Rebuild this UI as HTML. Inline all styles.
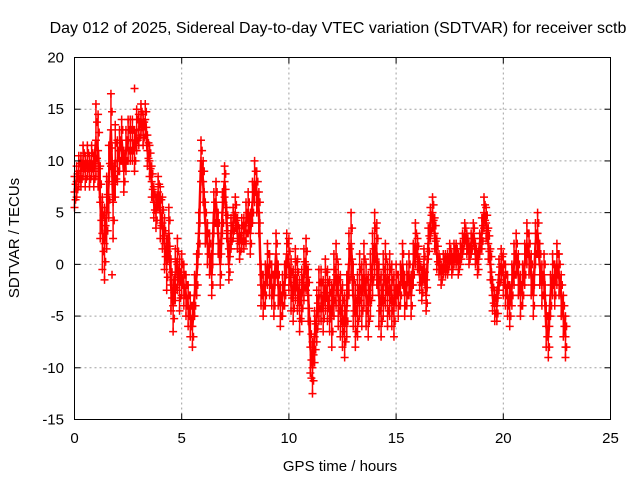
<!DOCTYPE html>
<html><head><meta charset="utf-8"><style>
body{margin:0;background:#fff}
svg text{font-family:"Liberation Sans",sans-serif;font-size:15px;fill:#000}
</style></head><body>
<svg id="chart" width="640" height="480">
<rect width="640" height="480" fill="#fff"/>
<g id="grid"></g>
<g id="pts"></g>
<rect x="74.5" y="57.5" width="536" height="362" fill="none" stroke="#000"/>
<g id="ticks"></g>
<text x="338" y="33" text-anchor="middle" style="font-size:16px">Day 012 of 2025, Sidereal Day-to-day VTEC variation (SDTVAR) for receiver sctb</text>
<text x="340" y="471" text-anchor="middle">GPS time / hours</text>
<text transform="translate(19,238) rotate(-90)" text-anchor="middle">SDTVAR / TECUs</text>
</svg>
<script>
const xTicks=[0,5,10,15,20,25];
const yTicks=[-15,-10,-5,0,5,10,15,20];
const step=0.1;
const values=[
7,8,9,9,10,9,10,9,10,9,
12,11,6,3,2,5,8,13,6,10,
10,11,12,9,11,12,12,12,11,13,
13,14,13,14,11,10,8,6,5,7,
5,4,2,0,3,-2,-4,-1,0,-2,
-1,-2,-3,-4,-5,-6,-3,-1,3,10,
8,4,2,1,-1,5,6,3,0,5,
8,4,0,3,4,5,3,2,3,3,
4,5,3,6,8,7,5,-2,-3,-2,
0,-1,-2,-3,1,-2,-4,-3,-2,1,
0,-2,-3,-1,-2,-4,-3,-1,0,-3,
-8,-10,-7,-5,-3,-3,-4,-2,-3,-4,
-5,-2,-1,-3,-4,-5,-6,-4,0,2,
-3,-5,-4,-2,-3,-1,-3,-4,-2,0,
2,1,-3,-4,-2,-1,-3,-2,-3,-4,
-2,-3,-2,0,-3,-2,-1,-3,0,2,
1,-1,-2,0,-3,2,4,5,3,1,
0,-1,0,0,0,1,0,1,1,0,
1,2,3,2,1,2,3,1,0,2,
3,5,4,2,0,-3,-4,-4,-1,0,
-1,-2,-3,-4,-2,0,1,-1,-3,-2,
0,2,1,-1,-3,2,3,0,-2,-1,
-6,-7,-3,-1,-2,0,-1,-3,-5,-7
];
const hourSpread=[1.5,3.5,2,1.5,2.5,2,2,1.5,2,2,2.5,2.5,3,3,3,2,1.5,1,1,1.5,2,2,2];
const outliers=[[2.8,17],[1.75,-1],[11.05,-11],[22.9,-8]];
const X0=74.5,X1=610.5,Y0=419.5,Y1=57.5;
const xs=v=>X0+(v-0)/(25-0)*(X1-X0);
const ys=v=>Y0-(v+15)/(35)*(Y0-Y1);
const NS="http://www.w3.org/2000/svg";
function mk(tag,attrs,parent){const e=document.createElementNS(NS,tag);for(const k in attrs)e.setAttribute(k,attrs[k]);parent.appendChild(e);return e;}
const grid=document.getElementById('grid'),ticks=document.getElementById('ticks'),pts=document.getElementById('pts');
xTicks.forEach(t=>{const x=xs(t);
 if(t>0&&t<25){const g=mk('line',{x1:x,x2:x,y1:Y1,y2:Y0,stroke:'#a0a0a0','stroke-dasharray':'2,3'},grid);
 
 }
 mk('line',{x1:x,x2:x,y1:Y0,y2:Y0-6,stroke:'#000'},ticks);
 mk('line',{x1:x,x2:x,y1:Y1,y2:Y1+6,stroke:'#000'},ticks);
 const tx=mk('text',{x:x,y:443,'text-anchor':'middle'},ticks);tx.textContent=t;
 
 
});
yTicks.forEach(t=>{const y=ys(t);
 if(t>-15&&t<20){const g=mk('line',{x1:X0,x2:X1,y1:y,y2:y,stroke:'#a0a0a0','stroke-dasharray':'2,3'},grid);
 
 }
 mk('line',{x1:X0,x2:X0+6,y1:y,y2:y,stroke:'#000'},ticks);
 mk('line',{x1:X1,x2:X1-6,y1:y,y2:y,stroke:'#000'},ticks);
 const tx=mk('text',{x:64,y:y+5,'text-anchor':'end'},ticks);tx.textContent=t;
 
 
});
let d='';
values.forEach((v,i)=>{d+=(i?'L':'M')+xs(i*step).toFixed(1)+','+ys(v).toFixed(1);});
const ln=mk('path',{d:d,fill:'none',stroke:'#f00','stroke-width':2.5},pts);


function plus(t,v){const x=xs(t),y=ys(v);
 const p=mk('path',{d:`M${x-4},${y}h8M${x},${y-4}v8`,stroke:'#f00','stroke-width':1.5},pts);
 
 }
values.forEach((v,i)=>{
 const s=hourSpread[Math.floor(i/10)];
 const t=i*step;
 const b=mk('line',{x1:xs(t),x2:xs(t),y1:ys(v-s),y2:ys(v+s),stroke:'#f00','stroke-width':1.5},pts);
 
 
 plus(t,v);plus(t,v+s);plus(t,v-s);plus(t+step/2,v+s/2);plus(t+step/2,v-s/2);
});
outliers.forEach(o=>plus(o[0],o[1]));
</script>
</body></html>
